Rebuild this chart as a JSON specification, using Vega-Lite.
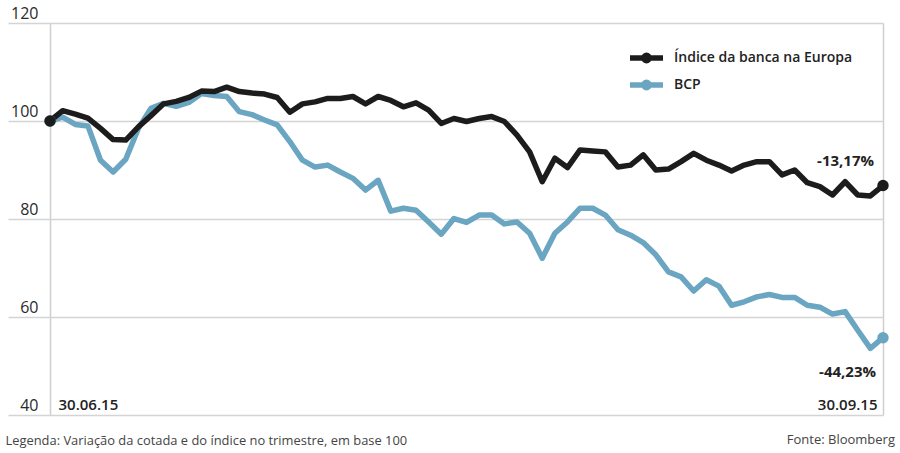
{
  "$schema": "https://vega.github.io/schema/vega-lite/v6.json",
  "width": 875,
  "height": 392,
  "autosize": "none",
  "padding": {"left": 8, "top": 23, "right": 17, "bottom": 38},
  "background": "white",
  "config": {"view": {"stroke": null}, "font": "Open Sans"},
  "title": {"text": "Fonte: Bloomberg", "orient": "bottom", "anchor": "end", "frame": "group", "font": "Open Sans", "fontSize": 13, "fontWeight": "normal", "color": "#444", "dx": 12, "offset": -13},
  "datasets": {
    "serie": [
      {"dia":0,"serie":"BCP","valor":100},{"dia":1,"serie":"BCP","valor":100.8},{"dia":2,"serie":"BCP","valor":99.3},{"dia":3,"serie":"BCP","valor":99},{"dia":4,"serie":"BCP","valor":92},{"dia":5,"serie":"BCP","valor":89.6},{"dia":6,"serie":"BCP","valor":92.2},{"dia":7,"serie":"BCP","valor":98.5},{"dia":8,"serie":"BCP","valor":102.6},{"dia":9,"serie":"BCP","valor":103.6},{"dia":10,"serie":"BCP","valor":103},{"dia":11,"serie":"BCP","valor":103.8},{"dia":12,"serie":"BCP","valor":105.6},{"dia":13,"serie":"BCP","valor":105.2},{"dia":14,"serie":"BCP","valor":105},{"dia":15,"serie":"BCP","valor":101.9},{"dia":16,"serie":"BCP","valor":101.3},{"dia":17,"serie":"BCP","valor":100.2},{"dia":18,"serie":"BCP","valor":99.2},{"dia":19,"serie":"BCP","valor":95.8},{"dia":20,"serie":"BCP","valor":92},{"dia":21,"serie":"BCP","valor":90.6},{"dia":22,"serie":"BCP","valor":91},{"dia":23,"serie":"BCP","valor":89.6},{"dia":24,"serie":"BCP","valor":88.3},{"dia":25,"serie":"BCP","valor":85.9},{"dia":26,"serie":"BCP","valor":87.9},{"dia":27,"serie":"BCP","valor":81.6},{"dia":28,"serie":"BCP","valor":82.2},{"dia":29,"serie":"BCP","valor":81.8},{"dia":30,"serie":"BCP","valor":79.4},{"dia":31,"serie":"BCP","valor":76.9},{"dia":32,"serie":"BCP","valor":80.1},{"dia":33,"serie":"BCP","valor":79.3},{"dia":34,"serie":"BCP","valor":80.8},{"dia":35,"serie":"BCP","valor":80.8},{"dia":36,"serie":"BCP","valor":79},{"dia":37,"serie":"BCP","valor":79.4},{"dia":38,"serie":"BCP","valor":77.1},{"dia":39,"serie":"BCP","valor":72},{"dia":40,"serie":"BCP","valor":77.1},{"dia":41,"serie":"BCP","valor":79.4},{"dia":42,"serie":"BCP","valor":82.2},{"dia":43,"serie":"BCP","valor":82.2},{"dia":44,"serie":"BCP","valor":80.8},{"dia":45,"serie":"BCP","valor":77.8},{"dia":46,"serie":"BCP","valor":76.7},{"dia":47,"serie":"BCP","valor":75.2},{"dia":48,"serie":"BCP","valor":72.7},{"dia":49,"serie":"BCP","valor":69.2},{"dia":50,"serie":"BCP","valor":68.2},{"dia":51,"serie":"BCP","valor":65.3},{"dia":52,"serie":"BCP","valor":67.6},{"dia":53,"serie":"BCP","valor":66.3},{"dia":54,"serie":"BCP","valor":62.4},{"dia":55,"serie":"BCP","valor":63.1},{"dia":56,"serie":"BCP","valor":64.1},{"dia":57,"serie":"BCP","valor":64.6},{"dia":58,"serie":"BCP","valor":64},{"dia":59,"serie":"BCP","valor":64},{"dia":60,"serie":"BCP","valor":62.4},{"dia":61,"serie":"BCP","valor":62},{"dia":62,"serie":"BCP","valor":60.6},{"dia":63,"serie":"BCP","valor":61.1},{"dia":64,"serie":"BCP","valor":57.3},{"dia":65,"serie":"BCP","valor":53.6},{"dia":66,"serie":"BCP","valor":55.77},
      {"dia":0,"serie":"Índice da banca na Europa","valor":100},{"dia":1,"serie":"Índice da banca na Europa","valor":102.1},{"dia":2,"serie":"Índice da banca na Europa","valor":101.4},{"dia":3,"serie":"Índice da banca na Europa","valor":100.6},{"dia":4,"serie":"Índice da banca na Europa","valor":98.5},{"dia":5,"serie":"Índice da banca na Europa","valor":96.2},{"dia":6,"serie":"Índice da banca na Europa","valor":96.1},{"dia":7,"serie":"Índice da banca na Europa","valor":98.8},{"dia":8,"serie":"Índice da banca na Europa","valor":101.1},{"dia":9,"serie":"Índice da banca na Europa","valor":103.5},{"dia":10,"serie":"Índice da banca na Europa","valor":104},{"dia":11,"serie":"Índice da banca na Europa","valor":104.8},{"dia":12,"serie":"Índice da banca na Europa","valor":106.1},{"dia":13,"serie":"Índice da banca na Europa","valor":106},{"dia":14,"serie":"Índice da banca na Europa","valor":106.9},{"dia":15,"serie":"Índice da banca na Europa","valor":106},{"dia":16,"serie":"Índice da banca na Europa","valor":105.7},{"dia":17,"serie":"Índice da banca na Europa","valor":105.5},{"dia":18,"serie":"Índice da banca na Europa","valor":104.8},{"dia":19,"serie":"Índice da banca na Europa","valor":101.8},{"dia":20,"serie":"Índice da banca na Europa","valor":103.5},{"dia":21,"serie":"Índice da banca na Europa","valor":103.9},{"dia":22,"serie":"Índice da banca na Europa","valor":104.6},{"dia":23,"serie":"Índice da banca na Europa","valor":104.6},{"dia":24,"serie":"Índice da banca na Europa","valor":105},{"dia":25,"serie":"Índice da banca na Europa","valor":103.5},{"dia":26,"serie":"Índice da banca na Europa","valor":105},{"dia":27,"serie":"Índice da banca na Europa","valor":104.2},{"dia":28,"serie":"Índice da banca na Europa","valor":102.9},{"dia":29,"serie":"Índice da banca na Europa","valor":103.7},{"dia":30,"serie":"Índice da banca na Europa","valor":102.2},{"dia":31,"serie":"Índice da banca na Europa","valor":99.5},{"dia":32,"serie":"Índice da banca na Europa","valor":100.5},{"dia":33,"serie":"Índice da banca na Europa","valor":99.9},{"dia":34,"serie":"Índice da banca na Europa","valor":100.5},{"dia":35,"serie":"Índice da banca na Europa","valor":100.9},{"dia":36,"serie":"Índice da banca na Europa","valor":99.9},{"dia":37,"serie":"Índice da banca na Europa","valor":97.1},{"dia":38,"serie":"Índice da banca na Europa","valor":93.7},{"dia":39,"serie":"Índice da banca na Europa","valor":87.6},{"dia":40,"serie":"Índice da banca na Europa","valor":92.4},{"dia":41,"serie":"Índice da banca na Europa","valor":90.5},{"dia":42,"serie":"Índice da banca na Europa","valor":94.1},{"dia":43,"serie":"Índice da banca na Europa","valor":93.9},{"dia":44,"serie":"Índice da banca na Europa","valor":93.7},{"dia":45,"serie":"Índice da banca na Europa","valor":90.6},{"dia":46,"serie":"Índice da banca na Europa","valor":91},{"dia":47,"serie":"Índice da banca na Europa","valor":93.1},{"dia":48,"serie":"Índice da banca na Europa","valor":90},{"dia":49,"serie":"Índice da banca na Europa","valor":90.2},{"dia":50,"serie":"Índice da banca na Europa","valor":91.7},{"dia":51,"serie":"Índice da banca na Europa","valor":93.4},{"dia":52,"serie":"Índice da banca na Europa","valor":92},{"dia":53,"serie":"Índice da banca na Europa","valor":91},{"dia":54,"serie":"Índice da banca na Europa","valor":89.8},{"dia":55,"serie":"Índice da banca na Europa","valor":91},{"dia":56,"serie":"Índice da banca na Europa","valor":91.7},{"dia":57,"serie":"Índice da banca na Europa","valor":91.7},{"dia":58,"serie":"Índice da banca na Europa","valor":89},{"dia":59,"serie":"Índice da banca na Europa","valor":90},{"dia":60,"serie":"Índice da banca na Europa","valor":87.4},{"dia":61,"serie":"Índice da banca na Europa","valor":86.6},{"dia":62,"serie":"Índice da banca na Europa","valor":84.9},{"dia":63,"serie":"Índice da banca na Europa","valor":87.6},{"dia":64,"serie":"Índice da banca na Europa","valor":84.9},{"dia":65,"serie":"Índice da banca na Europa","valor":84.7},{"dia":66,"serie":"Índice da banca na Europa","valor":86.83}
    ],
    "rotulos": [
      {"dia":66,"serie":"Índice da banca na Europa","valor":86.83,"rotulo":"-13,17%"},
      {"dia":66,"serie":"BCP","valor":55.77,"rotulo":"-44,23%"}
    ]
  },
  "data": {"name": "serie"},
  "encoding": {
    "x": {"field": "dia", "type": "quantitative", "scale": {"domain": [-3.33, 66], "nice": false, "zero": false},
      "axis": {"values": [0, 66], "grid": true, "gridColor": "#cfcfcf", "gridWidth": 1.5, "domain": false, "ticks": false, "tickSize": 0,
        "labelExpr": "datum.value == 0 ? '30.06.15' : '30.09.15'",
        "labelAlign": {"condition": {"test": "datum.value == 0", "value": "left"}, "value": "right"},
        "labelOffset": {"condition": {"test": "datum.value == 0", "value": 8}, "value": -6},
        "labelBaseline": "alphabetic", "labelPadding": -6, "labelFlush": false, "labelOverlap": false, "labelBound": false,
        "labelFont": "Open Sans", "labelFontSize": 15, "labelFontWeight": 600, "labelColor": "#222",
        "title": "Legenda: Variação da cotada e do índice no trimestre, em base 100",
        "titleAnchor": "start", "titleAlign": "left", "titleX": -3, "titleY": 29, "titleBaseline": "alphabetic",
        "titleFont": "Open Sans", "titleFontSize": 12.9, "titleFontWeight": "normal", "titleColor": "#444"}},
    "y": {"field": "valor", "type": "quantitative", "scale": {"domain": [40, 120], "nice": false, "zero": false},
      "axis": {"values": [40, 60, 80, 100, 120], "grid": true, "gridColor": "#d4d4d4", "gridWidth": 1.5, "domain": false, "ticks": false, "tickSize": 0,
        "labelAlign": "right", "labelPadding": -30, "labelBaseline": "alphabetic", "labelOffset": -5,
        "labelFont": "Open Sans", "labelFontSize": 16, "labelFontWeight": 500, "labelColor": "#2a2a2a", "title": null}},
    "color": {"field": "serie", "type": "nominal",
      "scale": {"domain": ["Índice da banca na Europa", "BCP"], "range": ["#1c1c1c", "#6aa5c2"]},
      "legend": {"title": null, "orient": "none", "legendX": 625.5, "legendY": 22, "padding": 0,
        "symbolType": "M-1.65,0H1.65M-0.27,0A0.27,0.27,0,1,1,0.27,0A0.27,0.27,0,1,1,-0.27,0Z",
        "symbolSize": 400, "symbolStrokeWidth": 5.5, "symbolFillColor": "transparent",
        "labelOffset": 14.5, "rowPadding": -3, "labelFont": "Open Sans", "labelFontSize": 14, "labelFontWeight": 600, "labelColor": "#222", "labelLimit": 300}}
  },
  "layer": [
    {"mark": {"type": "line", "strokeWidth": 5.5, "strokeJoin": "round", "strokeCap": "round"}},
    {"transform": [{"filter": "datum.dia == 0 || datum.dia == 66"}],
     "mark": {"type": "point", "filled": true, "opacity": 1, "size": 130}},
    {"data": {"name": "rotulos"},
     "transform": [{"filter": "datum.serie == 'Índice da banca na Europa'"}],
     "mark": {"type": "text", "align": "right", "baseline": "alphabetic", "dx": -9, "dy": -20, "font": "Open Sans", "fontSize": 15, "fontWeight": "bold", "color": "#222"},
     "encoding": {"text": {"field": "rotulo"}, "color": {"value": "#222"}}},
    {"data": {"name": "rotulos"},
     "transform": [{"filter": "datum.serie == 'BCP'"}],
     "mark": {"type": "text", "align": "right", "baseline": "alphabetic", "dx": -7, "dy": 39, "font": "Open Sans", "fontSize": 15, "fontWeight": "bold", "color": "#222"},
     "encoding": {"text": {"field": "rotulo"}, "color": {"value": "#222"}}}
  ]
}
